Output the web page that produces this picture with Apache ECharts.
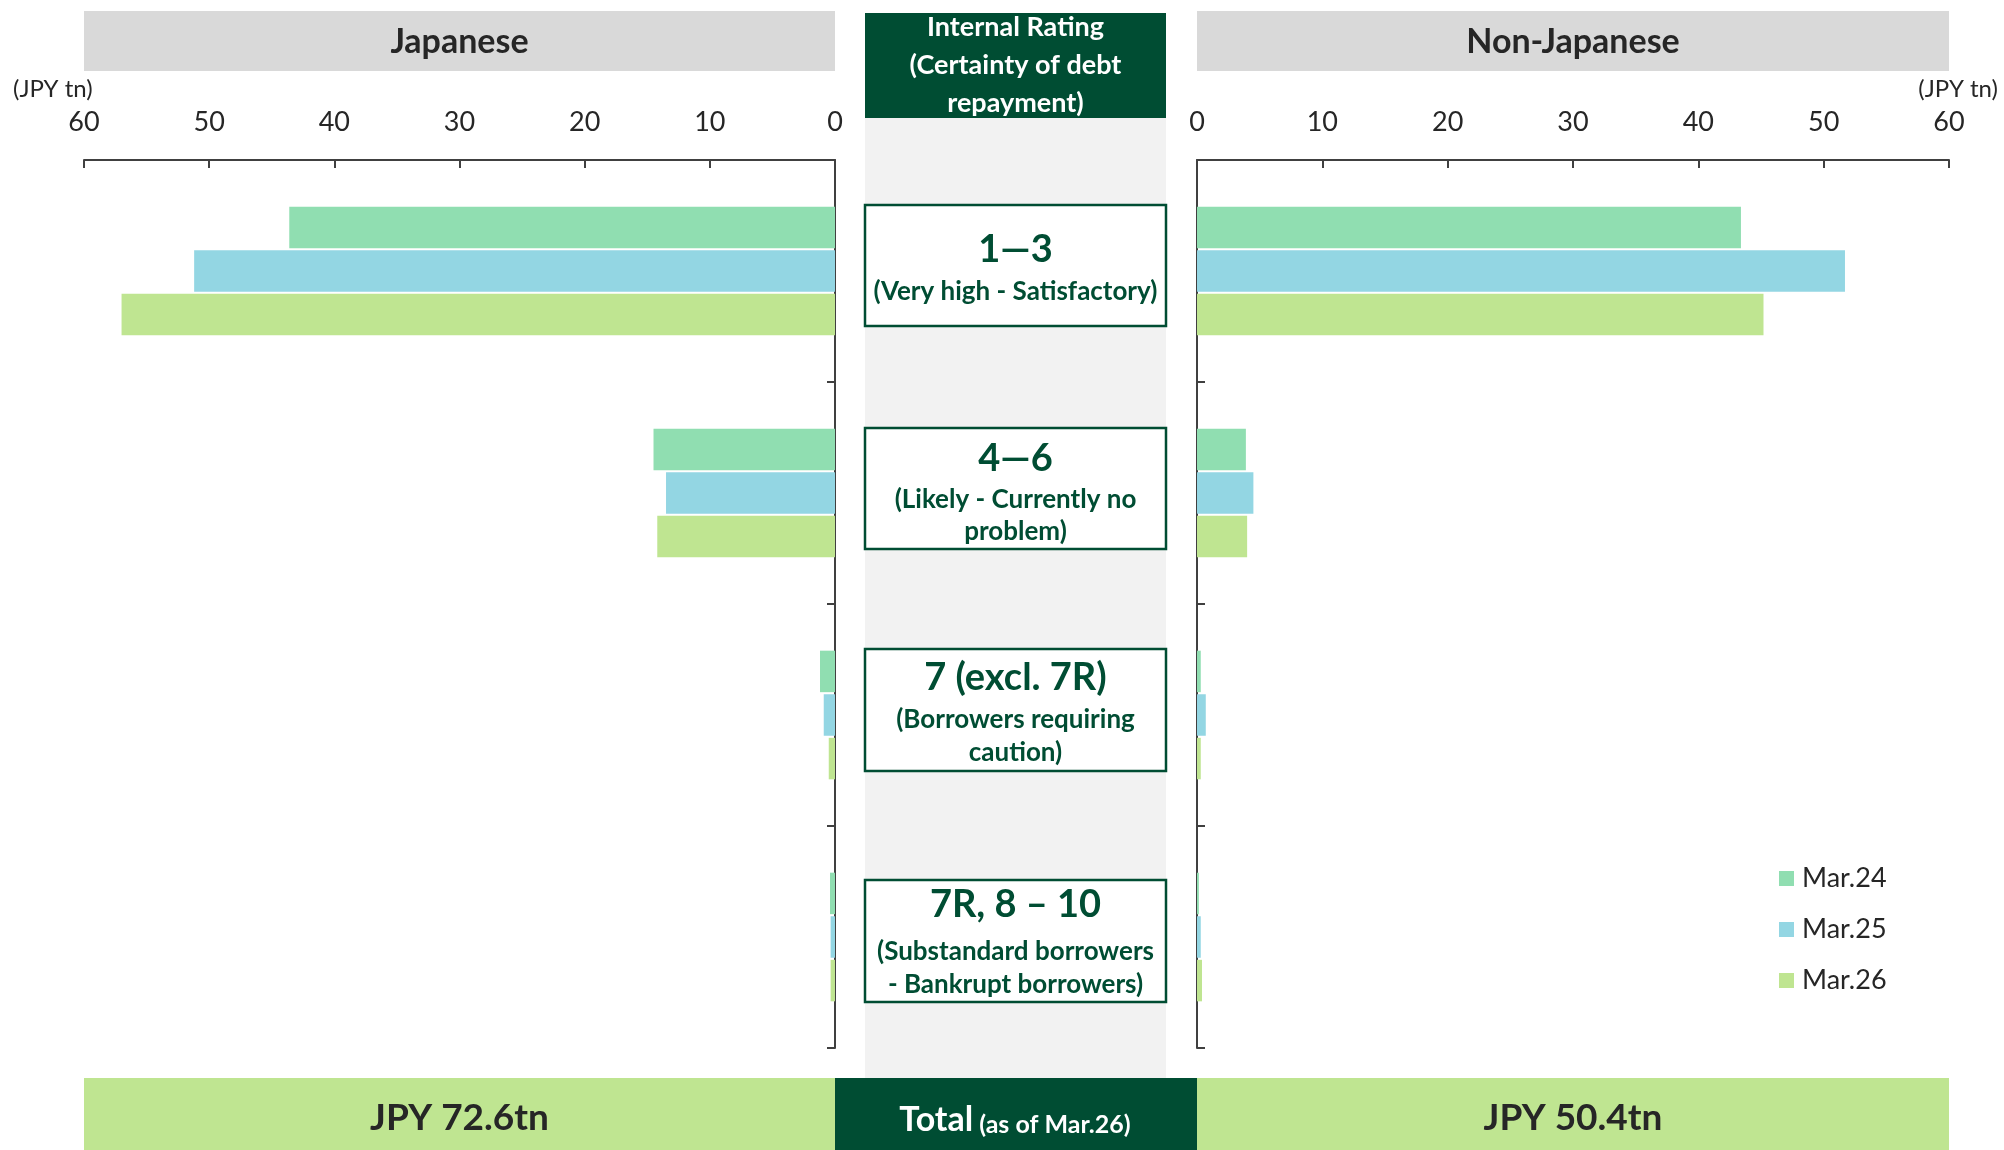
<!DOCTYPE html>
<html>
<head>
<meta charset="utf-8">
<title>Loan portfolio by internal rating</title>
<script src="https://cdn.jsdelivr.net/npm/echarts@6/dist/echarts.min.js"></script>
<style>
  html, body { margin: 0; padding: 0; background: #ffffff; }
  #chart { width: 2004px; height: 1150px; }
</style>
</head>
<body>
<div id="chart"></div>
<script>
// Rating buckets (top to bottom) and balances in JPY tn
const categories = ['1—3', '4—6', '7 (excl. 7R)', '7R, 8 – 10'];
const ratingNotes = [
  ['(Very high - Satisfactory)'],
  ['(Likely - Currently no', 'problem)'],
  ['(Borrowers requiring', 'caution)'],
  ['(Substandard borrowers', '- Bankrupt borrowers)']
];
const seriesNames = ['Mar.24', 'Mar.25', 'Mar.26'];

const japanMar24 = [43.6, 14.5, 1.2, 0.4];
const japanMar25 = [51.2, 13.5, 0.9, 0.35];
const japanMar26 = [57.0, 14.2, 0.5, 0.35];

const overseasMar24 = [43.4, 3.9, 0.3, 0.15];
const overseasMar25 = [51.7, 4.5, 0.7, 0.3];
const overseasMar26 = [45.2, 4.0, 0.3, 0.4];

const axisTicks = [0, 10, 20, 30, 40, 50, 60];
const axisMin = 0, axisMax = 60, axisStep = 10;

const totalJapan = 'JPY 72.6tn';
const totalOverseas = 'JPY 50.4tn';

const colors = ['#90DEB1', '#93D6E3', '#BFE591'];
const darkGreen = '#004D33';
const textDark = '#262626';
const FONT = 'Lato, "Open Sans", sans-serif';

const chart = echarts.init(document.getElementById('chart'), null, { renderer: 'canvas' });

function valueAxis(gridIndex, inverse) {
  return {
    type: 'value', gridIndex, inverse, position: 'top',
    min: axisMin, max: axisMax, interval: axisStep,
    axisLine: { show: true, lineStyle: { color: '#404040', width: 2 } },
    axisTick: { show: true, inside: true, length: 8, lineStyle: { color: '#404040', width: 2 } },
    axisLabel: {
      fontFamily: FONT, fontSize: 27, color: textDark, margin: 24,
      formatter: v => (axisTicks.indexOf(v) >= 0 ? String(v) : '')
    },
    splitLine: { show: false }
  };
}
function categoryAxis(gridIndex, position) {
  return {
    type: 'category', gridIndex, position, inverse: true, data: categories,
    axisLine: { show: true, lineStyle: { color: '#404040', width: 2 } },
    axisTick: { show: true, inside: true, length: 8, lineStyle: { color: '#404040', width: 2 } },
    axisLabel: { show: false },
    splitLine: { show: false }
  };
}
function barSeries(name, data, idx, color) {
  return {
    type: 'bar', name, data, xAxisIndex: idx, yAxisIndex: idx,
    barWidth: 41.5, barGap: '5%',
    itemStyle: { color },
    emphasis: { disabled: true }
  };
}

// Rating boxes in the centre column: [top, bottom, titleY, noteYs]
const boxLayout = [
  [205, 326, 250, [292]],
  [428, 549, 459, [500, 532]],
  [649, 771, 678, [720, 753]],
  [880, 1002, 905, [952, 985]]
];
const colX = 865, colW = 301, colCx = colX + colW / 2;

const graphics = [
  // section headers
  { type: 'rect', shape: { x: 84, y: 11, width: 751, height: 60 }, style: { fill: '#D9D9D9' } },
  { type: 'rect', shape: { x: 1197, y: 11, width: 752, height: 60 }, style: { fill: '#D9D9D9' } },
  { type: 'text', x: 459.5, y: 42, style: { text: 'Japanese', font: 'bold 34px ' + FONT, fill: textDark, align: 'center', verticalAlign: 'middle' } },
  { type: 'text', x: 1573, y: 42, style: { text: 'Non-Japanese', font: 'bold 34px ' + FONT, fill: textDark, align: 'center', verticalAlign: 'middle' } },
  // centre column
  { type: 'rect', shape: { x: colX, y: 118, width: colW, height: 960 }, style: { fill: '#F2F2F2' } },
  { type: 'rect', shape: { x: colX, y: 13, width: colW, height: 105 }, style: { fill: darkGreen } },
  { type: 'text', x: colCx, y: 27, style: { text: 'Internal Rating', font: 'bold 27px ' + FONT, fill: '#ffffff', align: 'center', verticalAlign: 'middle' } },
  { type: 'text', x: colCx, y: 65, style: { text: '(Certainty of debt', font: 'bold 27px ' + FONT, fill: '#ffffff', align: 'center', verticalAlign: 'middle' } },
  { type: 'text', x: colCx, y: 103, style: { text: 'repayment)', font: 'bold 27px ' + FONT, fill: '#ffffff', align: 'center', verticalAlign: 'middle' } },
  // unit labels
  { type: 'text', x: 13, y: 89, style: { text: '(JPY tn)', font: '24px ' + FONT, fill: textDark, align: 'left', verticalAlign: 'middle' } },
  { type: 'text', x: 1998, y: 89, style: { text: '(JPY tn)', font: '24px ' + FONT, fill: textDark, align: 'right', verticalAlign: 'middle' } },
  // totals strip
  { type: 'rect', shape: { x: 84, y: 1078, width: 751, height: 72 }, style: { fill: '#BFE591' } },
  { type: 'rect', shape: { x: 835, y: 1078, width: 362, height: 72 }, style: { fill: darkGreen } },
  { type: 'rect', shape: { x: 1197, y: 1078, width: 752, height: 72 }, style: { fill: '#BFE591' } },
  { type: 'text', x: 459.5, y: 1118, style: { text: totalJapan, font: 'bold 37px ' + FONT, fill: textDark, align: 'center', verticalAlign: 'middle' } },
  { type: 'text', x: 1573, y: 1118, style: { text: totalOverseas, font: 'bold 37px ' + FONT, fill: textDark, align: 'center', verticalAlign: 'middle' } },
  {
    type: 'text', x: 1015, y: 1117,
    style: {
      text: '{a|Total}{b| (as of Mar.26)}', align: 'center', verticalAlign: 'middle',
      rich: {
        a: { font: 'bold 34px ' + FONT, fill: '#ffffff', verticalAlign: 'bottom', lineHeight: 40 },
        b: { font: 'bold 25px ' + FONT, fill: '#ffffff', verticalAlign: 'bottom', lineHeight: 36 }
      }
    }
  }
];

boxLayout.forEach((b, i) => {
  graphics.push({
    type: 'rect', shape: { x: colX, y: b[0], width: colW, height: b[1] - b[0] },
    style: { fill: '#ffffff', stroke: darkGreen, lineWidth: 2.5 }
  });
  graphics.push({
    type: 'text', x: colCx, y: b[2],
    style: { text: categories[i], font: 'bold 38px ' + FONT, fill: darkGreen, align: 'center', verticalAlign: 'middle' }
  });
  ratingNotes[i].forEach((line, j) => {
    graphics.push({
      type: 'text', x: colCx, y: b[3][j],
      style: { text: line, font: 'bold 26px ' + FONT, fill: darkGreen, align: 'center', verticalAlign: 'middle' }
    });
  });
});

const option = {
  animation: false,
  backgroundColor: '#ffffff',
  grid: [
    { left: 84, top: 160, width: 751, height: 888 },
    { left: 1197, top: 160, width: 752, height: 888 }
  ],
  xAxis: [valueAxis(0, true), valueAxis(1, false)],
  yAxis: [categoryAxis(0, 'right'), categoryAxis(1, 'left')],
  legend: {
    data: seriesNames,
    orient: 'vertical',
    left: 1779, top: 865, padding: 0,
    icon: 'rect', itemWidth: 15, itemHeight: 15, itemGap: 24,
    textStyle: { fontFamily: FONT, fontSize: 27, color: textDark, lineHeight: 27, padding: [0, 0, 0, 3] },
    selectedMode: false
  },
  series: [
    barSeries(seriesNames[0], japanMar24, 0, colors[0]),
    barSeries(seriesNames[1], japanMar25, 0, colors[1]),
    barSeries(seriesNames[2], japanMar26, 0, colors[2]),
    barSeries(seriesNames[0], overseasMar24, 1, colors[0]),
    barSeries(seriesNames[1], overseasMar25, 1, colors[1]),
    barSeries(seriesNames[2], overseasMar26, 1, colors[2])
  ],
  graphic: graphics
};

chart.setOption(option);
</script>
</body>
</html>
